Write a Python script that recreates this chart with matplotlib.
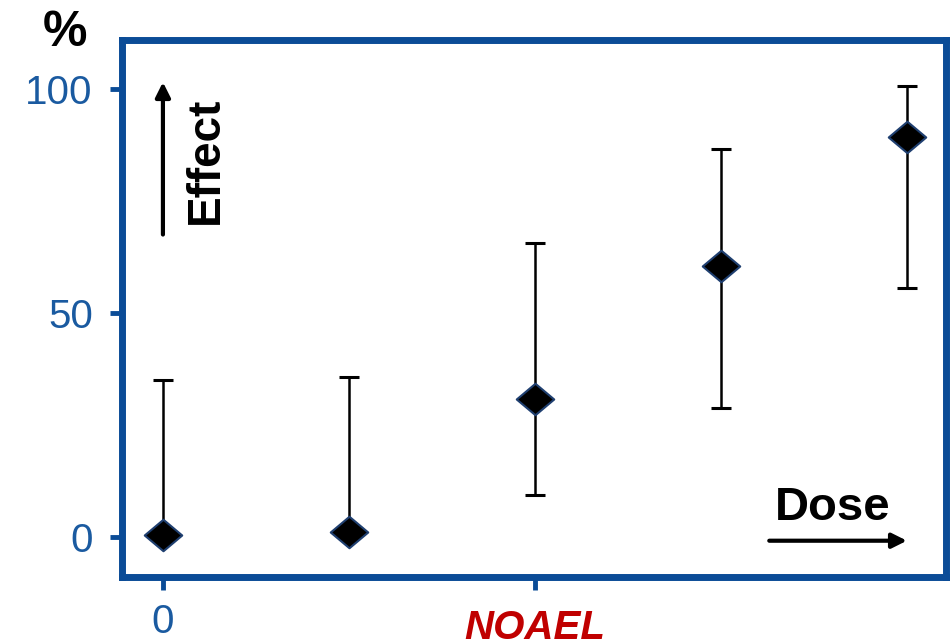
import matplotlib.pyplot as plt
from matplotlib.path import Path
from matplotlib.transforms import ScaledTranslation

plt.rcParams['font.family'] = ['Liberation Sans', 'DejaVu Sans']

# dose groups (positions on the x axis) and measured effect (%)
dose = [0, 1, 2, 3, 4]
effect = [0.5, 1.2, 30.8, 60.5, 89.3]
err_low = [0.0, 0.0, 21.4, 31.7, 33.7]
err_high = [34.6, 34.5, 34.8, 26.1, 11.4]
xtick_pos = [0, 2]
xtick_labels = ["0", "NOAEL"]
ytick_pos = [0, 50, 100]

blue = "#0b4c97"
label_blue = "#1a5aa0"
red = "#c00000"

diamond = Path([(-1.19, 0), (0, 1), (1.19, 0), (0, -1), (-1.19, 0)],
               [Path.MOVETO, Path.LINETO, Path.LINETO, Path.LINETO, Path.CLOSEPOLY])

fig = plt.figure(figsize=(9.51, 6.43), dpi=100)
ax = fig.add_axes([0.1283, 0.1026, 0.8664, 0.8352])

ax.errorbar(dose, effect, yerr=[err_low, err_high], fmt='none', ecolor='black',
            elinewidth=1.8, capsize=7.5, capthick=2.2, zorder=2)
ax.plot(dose, effect, linestyle='none', marker=diamond, markersize=27,
        markerfacecolor='black', markeredgecolor='#1f3f70', markeredgewidth=1.5, zorder=3)

ax.set_xlim(-0.22, 4.21)
ax.set_ylim(-8.9, 110.9)

for s in ax.spines.values():
    s.set_color(blue)
    s.set_linewidth(5)

ax.set_yticks(ytick_pos)
ax.set_yticklabels([str(v) for v in ytick_pos])
ax.set_xticks(xtick_pos)
ax.set_xticklabels(xtick_labels)
ax.tick_params(axis='both', colors=blue, length=9, width=3.5, labelsize=29,
               labelcolor=label_blue)
ax.tick_params(axis='y', pad=12)
ax.tick_params(axis='x', pad=10)

noael = ax.get_xticklabels()[1]
noael.set_color(red)
noael.set_fontsize(29)
noael.set_fontweight('bold')
noael.set_fontstyle('italic')
noael.set_transform(noael.get_transform() + ScaledTranslation(0, -4 / 72, fig.dpi_scale_trans))

# "%" unit label above the y axis
fig.text(0.068, 0.948, "%", fontsize=36, fontweight='bold', ha='center', va='center')

# Effect arrow
ax.annotate("", xy=(0.0, 101.5), xytext=(0.0, 67.5),
            arrowprops=dict(arrowstyle='-|>', color='black', lw=3, mutation_scale=22,
                            shrinkA=0, shrinkB=0))
ax.text(0.23, 84, "Effect", rotation=90, fontsize=33, fontweight='bold',
        ha='center', va='center')

# Dose arrow
ax.annotate("", xy=(4.0, -0.8), xytext=(3.26, -0.8),
            arrowprops=dict(arrowstyle='-|>', color='black', lw=3, mutation_scale=22,
                            shrinkA=0, shrinkB=0))
ax.text(3.6, 6.5, "Dose", fontsize=34, fontweight='bold', ha='center', va='center')

fig.savefig("out.png", dpi=100)
